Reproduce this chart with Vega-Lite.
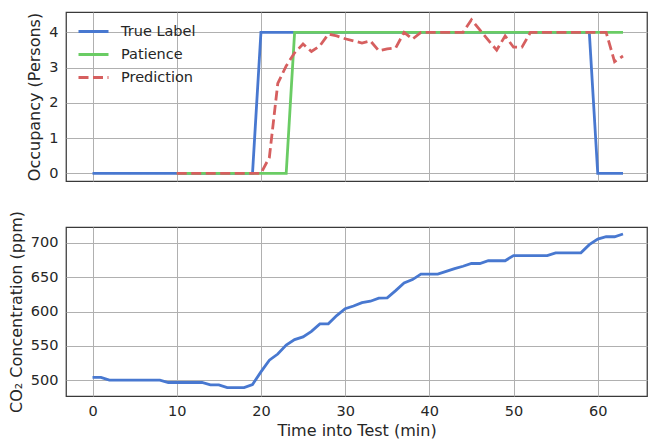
{
  "$schema": "https://vega.github.io/schema/vega-lite/v6.json",
  "padding": {"left": 7, "top": 11, "right": 0, "bottom": 0},
  "config": {
    "font": "DejaVu Sans",
    "view": {"stroke": "#3a3a3a", "strokeWidth": 1.25},
    "axis": {
      "grid": true, "gridColor": "#b0b0b0", "gridWidth": 1,
      "domain": false, "ticks": false,
      "labelFont": "DejaVu Sans", "labelFontSize": 14.5, "labelColor": "#262626",
      "titleFont": "DejaVu Sans", "titleFontSize": 16, "titleFontWeight": "normal", "titleColor": "#262626",
      "labelPadding": 8, "titlePadding": 6
    },
    "concat": {"spacing": 27}
  },
  "datasets": {
    "runs": [
      {"t": 0, "True Label": 0, "Patience": null, "Prediction": null, "co2": 504},
      {"t": 1, "True Label": 0, "Patience": null, "Prediction": null, "co2": 504},
      {"t": 2, "True Label": 0, "Patience": null, "Prediction": null, "co2": 500},
      {"t": 3, "True Label": 0, "Patience": null, "Prediction": null, "co2": 500},
      {"t": 4, "True Label": 0, "Patience": null, "Prediction": null, "co2": 500},
      {"t": 5, "True Label": 0, "Patience": null, "Prediction": null, "co2": 500},
      {"t": 6, "True Label": 0, "Patience": null, "Prediction": null, "co2": 500},
      {"t": 7, "True Label": 0, "Patience": null, "Prediction": null, "co2": 500},
      {"t": 8, "True Label": 0, "Patience": null, "Prediction": null, "co2": 500},
      {"t": 9, "True Label": 0, "Patience": null, "Prediction": null, "co2": 496.5},
      {"t": 10, "True Label": 0, "Patience": 0, "Prediction": 0, "co2": 496.5},
      {"t": 11, "True Label": 0, "Patience": 0, "Prediction": 0, "co2": 496.5},
      {"t": 12, "True Label": 0, "Patience": 0, "Prediction": 0, "co2": 496.5},
      {"t": 13, "True Label": 0, "Patience": 0, "Prediction": 0, "co2": 496.5},
      {"t": 14, "True Label": 0, "Patience": 0, "Prediction": 0, "co2": 493},
      {"t": 15, "True Label": 0, "Patience": 0, "Prediction": 0, "co2": 493},
      {"t": 16, "True Label": 0, "Patience": 0, "Prediction": 0, "co2": 489},
      {"t": 17, "True Label": 0, "Patience": 0, "Prediction": 0, "co2": 489},
      {"t": 18, "True Label": 0, "Patience": 0, "Prediction": 0, "co2": 489},
      {"t": 19, "True Label": 0, "Patience": 0, "Prediction": 0, "co2": 493.5},
      {"t": 20, "True Label": 4, "Patience": 0, "Prediction": 0, "co2": 512},
      {"t": 21, "True Label": 4, "Patience": 0, "Prediction": 0.45, "co2": 529},
      {"t": 22, "True Label": 4, "Patience": 0, "Prediction": 2.55, "co2": 538},
      {"t": 23, "True Label": 4, "Patience": 0, "Prediction": 3.05, "co2": 551},
      {"t": 24, "True Label": 4, "Patience": 4, "Prediction": 3.42, "co2": 559},
      {"t": 25, "True Label": 4, "Patience": 4, "Prediction": 3.67, "co2": 563},
      {"t": 26, "True Label": 4, "Patience": 4, "Prediction": 3.46, "co2": 571},
      {"t": 27, "True Label": 4, "Patience": 4, "Prediction": 3.62, "co2": 582},
      {"t": 28, "True Label": 4, "Patience": 4, "Prediction": 3.95, "co2": 582},
      {"t": 29, "True Label": 4, "Patience": 4, "Prediction": 3.9, "co2": 594},
      {"t": 30, "True Label": 4, "Patience": 4, "Prediction": 3.82, "co2": 604},
      {"t": 31, "True Label": 4, "Patience": 4, "Prediction": 3.76, "co2": 608},
      {"t": 32, "True Label": 4, "Patience": 4, "Prediction": 3.7, "co2": 613},
      {"t": 33, "True Label": 4, "Patience": 4, "Prediction": 3.76, "co2": 615},
      {"t": 34, "True Label": 4, "Patience": 4, "Prediction": 3.48, "co2": 619.5},
      {"t": 35, "True Label": 4, "Patience": 4, "Prediction": 3.53, "co2": 620},
      {"t": 36, "True Label": 4, "Patience": 4, "Prediction": 3.56, "co2": 630.5},
      {"t": 37, "True Label": 4, "Patience": 4, "Prediction": 4.0, "co2": 641.5},
      {"t": 38, "True Label": 4, "Patience": 4, "Prediction": 3.81, "co2": 646.5},
      {"t": 39, "True Label": 4, "Patience": 4, "Prediction": 4.0, "co2": 654.5},
      {"t": 40, "True Label": 4, "Patience": 4, "Prediction": 4.0, "co2": 654.5},
      {"t": 41, "True Label": 4, "Patience": 4, "Prediction": 4.0, "co2": 654.5},
      {"t": 42, "True Label": 4, "Patience": 4, "Prediction": 4.0, "co2": 658.5},
      {"t": 43, "True Label": 4, "Patience": 4, "Prediction": 4.0, "co2": 662.5},
      {"t": 44, "True Label": 4, "Patience": 4, "Prediction": 4.0, "co2": 666},
      {"t": 45, "True Label": 4, "Patience": 4, "Prediction": 4.36, "co2": 670},
      {"t": 46, "True Label": 4, "Patience": 4, "Prediction": 4.07, "co2": 670},
      {"t": 47, "True Label": 4, "Patience": 4, "Prediction": 3.78, "co2": 674},
      {"t": 48, "True Label": 4, "Patience": 4, "Prediction": 3.5, "co2": 674},
      {"t": 49, "True Label": 4, "Patience": 4, "Prediction": 3.9, "co2": 674},
      {"t": 50, "True Label": 4, "Patience": 4, "Prediction": 3.58, "co2": 681.5},
      {"t": 51, "True Label": 4, "Patience": 4, "Prediction": 3.58, "co2": 681.5},
      {"t": 52, "True Label": 4, "Patience": 4, "Prediction": 4.0, "co2": 681.5},
      {"t": 53, "True Label": 4, "Patience": 4, "Prediction": 4.0, "co2": 681.5},
      {"t": 54, "True Label": 4, "Patience": 4, "Prediction": 4.0, "co2": 681.5},
      {"t": 55, "True Label": 4, "Patience": 4, "Prediction": 4.0, "co2": 685.5},
      {"t": 56, "True Label": 4, "Patience": 4, "Prediction": 4.0, "co2": 685.5},
      {"t": 57, "True Label": 4, "Patience": 4, "Prediction": 4.0, "co2": 685.5},
      {"t": 58, "True Label": 4, "Patience": 4, "Prediction": 4.0, "co2": 685.5},
      {"t": 59, "True Label": 4, "Patience": 4, "Prediction": 4.0, "co2": 697.5},
      {"t": 60, "True Label": 0, "Patience": 4, "Prediction": 4.0, "co2": 705.5},
      {"t": 61, "True Label": 0, "Patience": 4, "Prediction": 4.0, "co2": 709},
      {"t": 62, "True Label": 0, "Patience": 4, "Prediction": 3.17, "co2": 709},
      {"t": 63, "True Label": 0, "Patience": 4, "Prediction": 3.33, "co2": 713}
    ]
  },
  "vconcat": [
    {
      "width": 581,
      "height": 169,
      "data": {"name": "runs"},
      "transform": [{"fold": ["True Label", "Patience", "Prediction"], "as": ["series", "value"]}],
      "encoding": {
        "x": {"field": "t", "type": "quantitative",
              "scale": {"domain": [-3.15, 65.85], "nice": false, "zero": false},
              "axis": {"values": [0, 10, 20, 30, 40, 50, 60], "labels": false, "title": null}},
        "y": {"field": "value", "type": "quantitative",
              "scale": {"domain": [-0.218, 4.58], "nice": false},
              "axis": {"values": [0, 1, 2, 3, 4], "format": "d", "title": "Occupancy (Persons)"}},
        "color": {"field": "series", "type": "nominal",
                  "scale": {"domain": ["True Label", "Patience", "Prediction"], "range": ["#4878D0", "#6ACC64", "#D65F5F"]},
                  "legend": {"title": null, "orient": "none", "legendX": 11, "legendY": 3,
                             "symbolType": "stroke", "symbolSize": 900, "symbolStrokeWidth": 3,
                             "labelFontSize": 14.5, "labelColor": "#262626", "labelFont": "DejaVu Sans",
                             "labelOffset": 11, "rowPadding": -0.7, "padding": 0}},
        "strokeDash": {"field": "series", "type": "nominal",
                       "scale": {"domain": ["True Label", "Patience", "Prediction"], "range": [[1, 0], [1, 0], [10, 4.5]]},
                       "legend": {"title": null, "orient": "none", "legendX": 11, "legendY": 3,
                                  "symbolType": "stroke", "symbolSize": 900, "symbolStrokeWidth": 3,
                                  "labelFontSize": 14.5, "labelColor": "#262626", "labelFont": "DejaVu Sans",
                                  "labelOffset": 11, "rowPadding": -0.7, "padding": 0}}
      },
      "layer": [
        {"transform": [{"filter": "datum.series === 'True Label'"}], "mark": {"type": "line", "strokeWidth": 2.8}},
        {"transform": [{"filter": "datum.series === 'Patience'"}], "mark": {"type": "line", "strokeWidth": 2.8}},
        {"transform": [{"filter": "datum.series === 'Prediction'"}], "mark": {"type": "line", "strokeWidth": 2.8}}
      ]
    },
    {
      "width": 581,
      "height": 169,
      "data": {"name": "runs"},
      "mark": {"type": "line", "strokeWidth": 2.8, "color": "#4878D0"},
      "encoding": {
        "x": {"field": "t", "type": "quantitative",
              "scale": {"domain": [-3.15, 65.85], "nice": false, "zero": false},
              "axis": {"values": [0, 10, 20, 30, 40, 50, 60], "title": "Time into Test (min)", "titlePadding": 5}},
        "y": {"field": "co2", "type": "quantitative",
              "scale": {"domain": [476.8, 723.2], "nice": false, "zero": false},
              "axis": {"values": [500, 550, 600, 650, 700], "title": "CO₂ Concentration (ppm)"}}
      }
    }
  ]
}
